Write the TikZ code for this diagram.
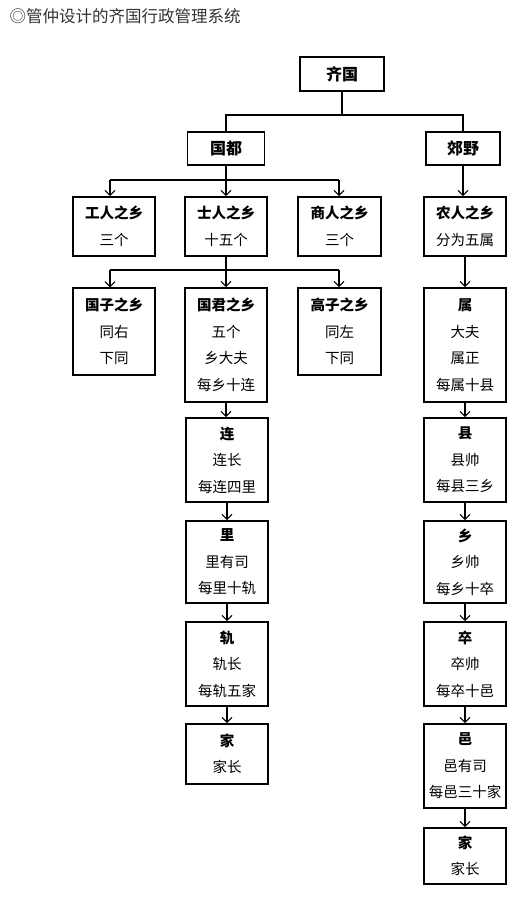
\documentclass[tikz,border=0pt]{standalone}
\usepackage{fontspec}
\newfontfamily\cjk{Noto Sans CJK SC}
\usetikzlibrary{arrows.meta}
\begin{document}
\begin{tikzpicture}[x=1pt,y=-1pt,
  box/.style={draw, line width=1.8pt, inner sep=0pt, align=center,
    font=\cjk\fontsize{14.5}{26.5}\selectfont, minimum width=82pt},
  topbox/.style={draw, inner sep=0pt, align=center,
    font=\cjk\bfseries\fontsize{16}{20}\selectfont},
  thinln/.style={line width=1.1pt},
  barln/.style={line width=1.8pt},
  thickln/.style={line width=2.2pt},
  arr/.style={-{Straight Barb[length=5pt,width=10pt,line width=1pt]}},
  hd/.style={font=\cjk\bfseries}
]
\useasboundingbox (0,0) rectangle (525,900);

\node[anchor=west, font=\cjk\fontsize{16.5}{18}\selectfont, text=black!80] (title) at (6,16) {◎管仲设计的齐国行政管理系统};

\node[topbox, line width=2.4pt, minimum width=84pt, minimum height=34pt] (qiguo) at (342,74) {齐国};
\node[topbox, line width=1.5pt, minimum width=77pt, minimum height=33pt] (guodu) at (226,148.5) {国都};
\node[topbox, line width=1.5pt, minimum width=74pt, minimum height=33pt] (jiaoye) at (463,148.5) {郊野};

\node[box, minimum height=59pt] (gong) at (114,226.5) {{\bfseries 工人之乡}\\三个};
\node[box, minimum height=59pt] (shi) at (226,226.5) {{\bfseries 士人之乡}\\十五个};
\node[box, minimum height=59pt, minimum width=83pt] (shang) at (339.5,226.5) {{\bfseries 商人之乡}\\三个};
\node[box, minimum height=59pt] (nong) at (465,226.5) {{\bfseries 农人之乡}\\分为五属};

\node[box, minimum height=87pt, line width=1.5pt] (guozi) at (114,331.5) {{\bfseries 国子之乡}\\同右\\下同};
\node[box, minimum height=114pt] (guojun) at (226,345) {{\bfseries 国君之乡}\\五个\\乡大夫\\每乡十连};
\node[box, minimum height=87pt, minimum width=83pt] (gaozi) at (339.5,331.5) {{\bfseries 高子之乡}\\同左\\下同};
\node[box, minimum height=114pt] (shu) at (465,345) {{\bfseries 属}\\大夫\\属正\\每属十县};

\node[box, minimum height=84pt] (lian) at (227,460) {{\bfseries 连}\\连长\\每连四里};
\node[box, minimum height=84pt] (xian) at (465,460) {{\bfseries 县}\\县帅\\每县三乡};
\node[box, minimum height=82pt] (li) at (227,562) {{\bfseries 里}\\里有司\\每里十轨};
\node[box, minimum height=82pt] (xiang) at (465,562) {{\bfseries 乡}\\乡帅\\每乡十卒};
\node[box, minimum height=84pt] (gui) at (227,664) {{\bfseries 轨}\\轨长\\每轨五家};
\node[box, minimum height=84pt] (zu) at (465,664) {{\bfseries 卒}\\卒帅\\每卒十邑};
\node[box, minimum height=60pt] (jiaA) at (227,754) {{\bfseries 家}\\家长};
\node[box, minimum height=84pt] (yi) at (465,766) {{\bfseries 邑}\\邑有司\\每邑三十家};
\node[box, minimum height=56pt] (jiaB) at (465,856) {{\bfseries 家}\\家长};

% top level
\coordinate (j1) at (342,115);
\draw[barln] (qiguo.south) -- (j1);
\draw[barln] (guodu.north) |- (j1) -| (jiaoye.north);

% guodu branch
\coordinate (j2) at (226,180);
\draw[thinln] (guodu.south) -- (j2);
\draw[barln] ([xshift=-4pt]gong.north |- j2) -- (339,180);
\draw[thinln, arr] ([xshift=-4pt]gong.north |- j2) -- ([xshift=-4pt]gong.north);
\draw[thinln, arr] (j2) -- (shi.north);
\draw[thinln, arr] (339,180) -- (shang.north -| 339,0);

% jiaoye branch
\draw[thickln, arr] (jiaoye.south) -- (jiaoye.south |- nong.north);

% shi branch
\coordinate (j3) at (226,270);
\draw[thinln] (shi.south) -- (j3);
\draw[barln] ([xshift=-4pt]guozi.north |- j3) -- (339,270);
\draw[thinln, arr] ([xshift=-4pt]guozi.north |- j3) -- ([xshift=-4pt]guozi.north);
\draw[thinln, arr] (j3) -- (guojun.north);
\draw[thinln, arr] (339,270) -- (gaozi.north -| 339,0);

% left column
\draw[thinln, arr] (guojun.south) -- (guojun.south |- lian.north);
\draw[thinln, arr] (lian) -- (li);
\draw[thinln, arr] (li) -- (gui);
\draw[thinln, arr] (gui) -- (jiaA);

% right column
\draw[thickln, arr] (nong) -- (shu);
\draw[thickln, arr] (shu) -- (xian);
\draw[thickln, arr] (xian) -- (xiang);
\draw[thickln, arr] (xiang) -- (zu);
\draw[thickln, arr] (zu) -- (yi);
\draw[thickln, arr] (yi) -- (jiaB);
\end{tikzpicture}
\end{document}
